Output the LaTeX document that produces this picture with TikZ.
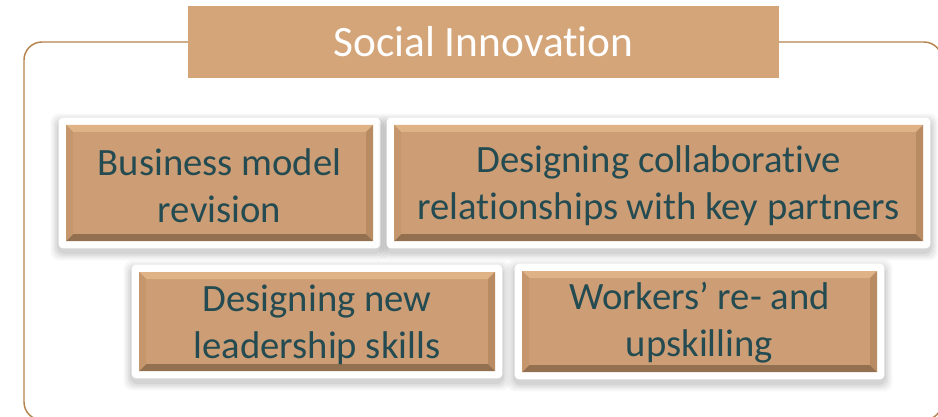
\documentclass[tikz,border=0pt]{standalone}
\usepackage{fontspec}
\setmainfont{Carlito}[Ligatures=NoCommon]
\usetikzlibrary{backgrounds}
\definecolor{boxfill}{HTML}{CD9E75}
\definecolor{titlefill}{HTML}{D4A579}
\definecolor{bevtop}{HTML}{E0B386}
\definecolor{bevbot}{HTML}{927050}
\definecolor{bevleft}{HTML}{C6976D}
\definecolor{bevright}{HTML}{B98B62}
\definecolor{txt}{HTML}{244B51}
\definecolor{framec}{HTML}{B5834D}
\tikzset{
  bevbox/.style={fill=boxfill, inner sep=0pt,
    path picture={
      \fill[bevtop] (path picture bounding box.north west) -- (path picture bounding box.north east)
        -- ([shift={(-7,7)}]path picture bounding box.north east) -- ([shift={(7,7)}]path picture bounding box.north west) -- cycle;
      \fill[bevbot] (path picture bounding box.south west) -- (path picture bounding box.south east)
        -- ([shift={(-7,-7)}]path picture bounding box.south east) -- ([shift={(7,-7)}]path picture bounding box.south west) -- cycle;
      \fill[bevleft] (path picture bounding box.north west) -- ([shift={(7,7)}]path picture bounding box.north west)
        -- ([shift={(7,-7)}]path picture bounding box.south west) -- (path picture bounding box.south west) -- cycle;
      \fill[bevright] (path picture bounding box.north east) -- ([shift={(-7,7)}]path picture bounding box.north east)
        -- ([shift={(-7,-7)}]path picture bounding box.south east) -- (path picture bounding box.south east) -- cycle;
    }},
  boxtext/.style={inner sep=0pt, text=txt, font=\fontsize{29}{35.5}\selectfont, align=center},
  titlebox/.style={fill=titlefill, inner sep=0pt, text=white, font=\fontsize{32.5}{38}\selectfont},
  outerframe/.style={draw=framec, line width=1.1pt, rounded corners=13.5pt, inner sep=0pt}
}
\newcommand\whiteframe[1]{%
  \foreach \s/\o in {8/0.03,6/0.04,4/0.05,2/0.06}{%
    \fill[black,opacity=\o,rounded corners=6pt] ([shift={(-7-\s,-7-\s+4)}]#1.north west) rectangle ([shift={(7+\s,7+\s+4)}]#1.south east);}
  \fill[white,rounded corners=3pt] ([shift={(-7,-7)}]#1.north west) rectangle ([shift={(7,7)}]#1.south east);
}
\begin{document}
\begin{tikzpicture}[x=0.75pt,y=-0.75pt]
\useasboundingbox (0,0) rectangle (938,417);
\node[outerframe, minimum width=688.5pt, minimum height=283.5pt] (frame) at (483,231) {};
\node[titlebox, minimum width=443.25pt, minimum height=54pt] (title) at (483.5,42) {Social Innovation};
\node[bevbox, minimum width=230.25pt, minimum height=87pt] (b1) at (219.5,183) {};
\node[bevbox, minimum width=396.75pt, minimum height=87pt] (b2) at (658.5,183) {};
\node[bevbox, minimum width=267pt, minimum height=74.25pt] (b3) at (317,321.5) {};
\node[bevbox, minimum width=266.25pt, minimum height=75.75pt] (b4) at (699.5,321.5) {};
\node[boxtext] (t1) at ([shift={(0,3)}]b1.center) {Business model\\revision};
\node[boxtext] (t2) at ([shift={(0,3)}]b2.center) {Designing collaborative\\relationships with key partners};
\node[boxtext] (t3) at ([shift={(0,3)}]b3.center) {Designing new\\leadership skills};
\node[boxtext] (t4) at ([shift={(0,1)}]b4.center) {Workers’ re- and\\upskilling};
\begin{scope}[on background layer]
  \whiteframe{b1}
  \whiteframe{b2}
  \whiteframe{b3}
  \whiteframe{b4}
\end{scope}
\end{tikzpicture}
\end{document}
